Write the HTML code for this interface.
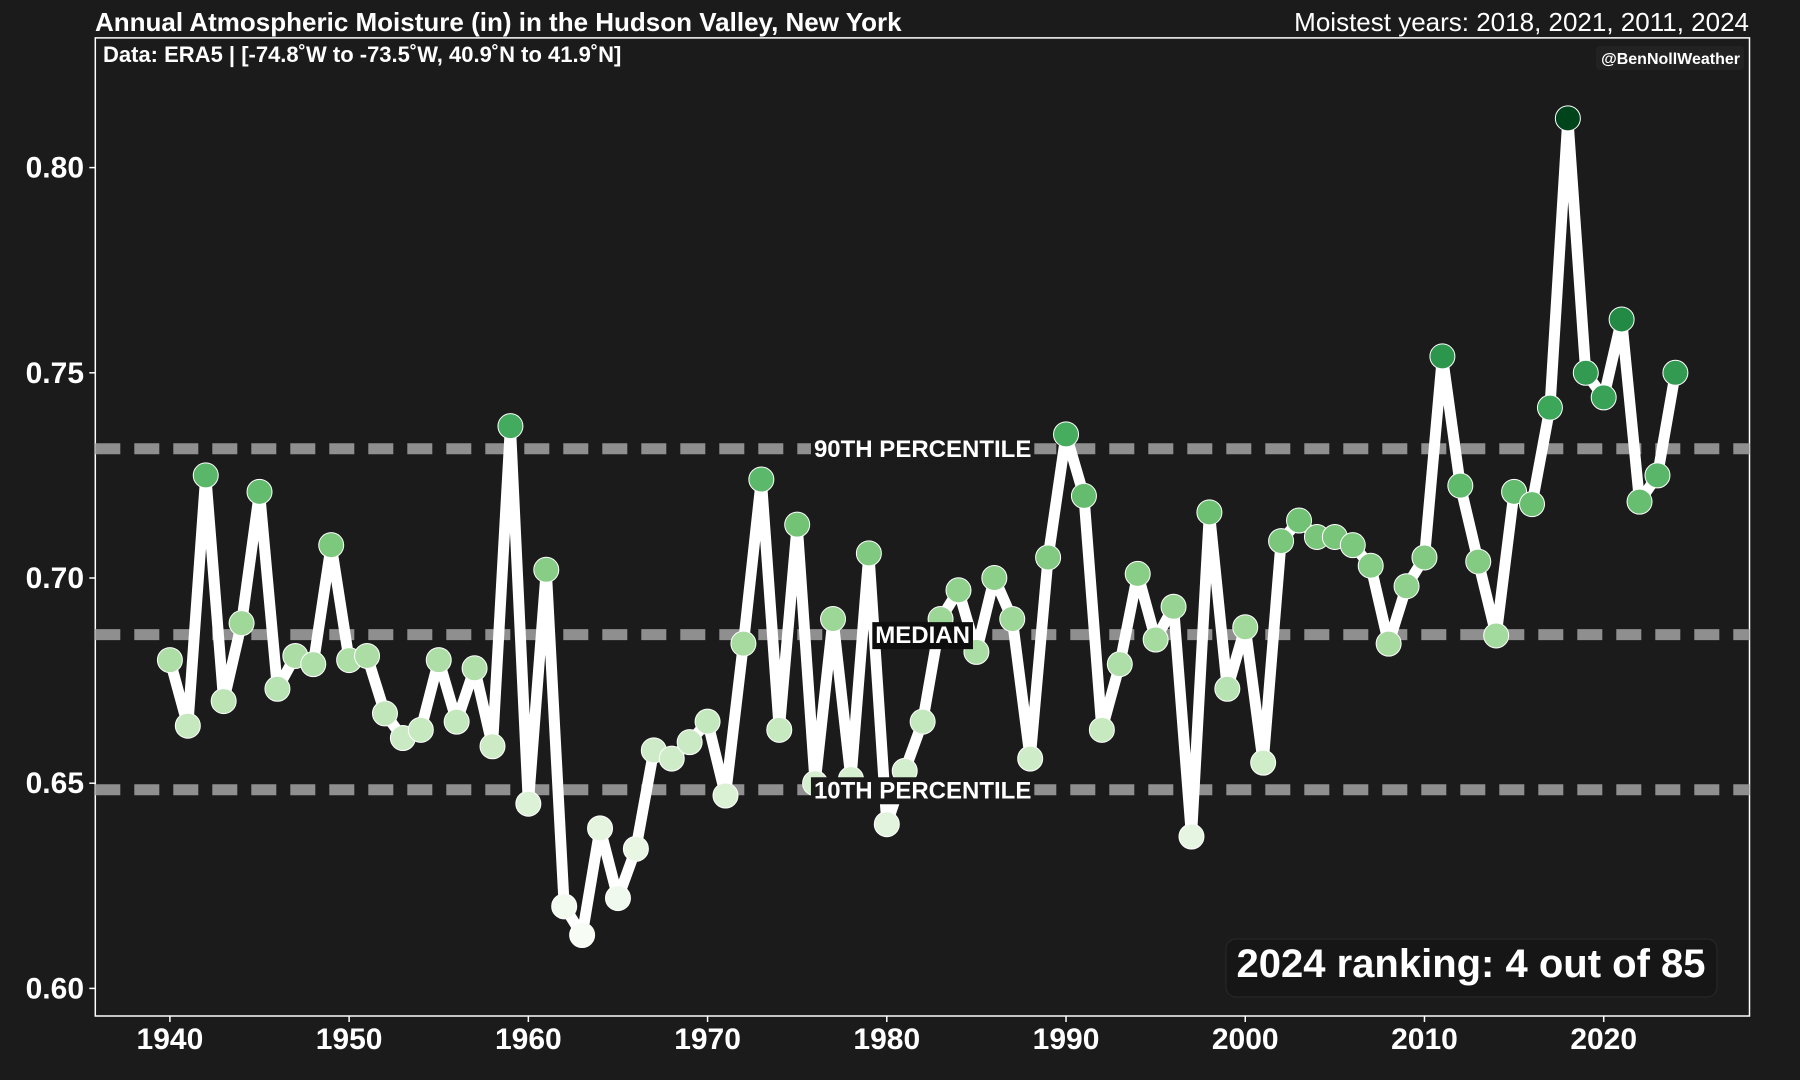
<!DOCTYPE html>
<html><head><meta charset="utf-8">
<style>
html,body{margin:0;padding:0;background:#1b1b1b;}
svg{display:block;}
text{font-family:"Liberation Sans",Arial,sans-serif;}
</style></head>
<body>
<svg id="chart" width="1800" height="1080" viewBox="0 0 1800 1080">
<rect x="0" y="0" width="1800" height="1080" fill="#1b1b1b"/>
<g id="layer"></g>
</svg>
<script>
const years = [];
for (let y = 1940; y <= 2024; y++) years.push(y);
const values = [0.680,0.664,0.725,0.670,0.689,0.721,0.673,0.681,0.679,0.708,
0.680,0.681,0.667,0.661,0.663,0.680,0.665,0.678,0.659,0.737,
0.645,0.702,0.620,0.613,0.639,0.622,0.634,0.658,0.656,0.660,
0.665,0.647,0.684,0.724,0.663,0.713,0.650,0.690,0.651,0.706,
0.640,0.653,0.665,0.690,0.697,0.682,0.700,0.690,0.656,0.705,
0.735,0.720,0.663,0.679,0.701,0.685,0.693,0.637,0.716,0.673,
0.688,0.655,0.709,0.714,0.710,0.710,0.708,0.703,0.684,0.698,
0.705,0.754,0.7225,0.704,0.686,0.721,0.718,0.7415,0.812,0.750,
0.744,0.763,0.7186,0.725,0.750];
const yTicks = [0.60,0.65,0.70,0.75,0.80];
const xTicks = [1940,1950,1960,1970,1980,1990,2000,2010,2020];
const refNames = ["10TH PERCENTILE","MEDIAN","90TH PERCENTILE"];
const refValues = [0.6484,0.6862,0.7315];

const NS = "http://www.w3.org/2000/svg";
const L = 95.3, R = 1749.5, T = 37.9, B = 1016;
function xs(yr){ return 169.9 + (yr - 1940) * (1603.7 - 169.9) / 80; }
function ys(v){ return 167.6 + (0.80 - v) * (988.4 - 167.6) / 0.20; }
const layer = document.getElementById('layer');
function mk(tag, attrs, parent){
  const e = document.createElementNS(NS, tag);
  for (const k in attrs) e.setAttribute(k, attrs[k]);
  (parent || layer).appendChild(e);
  return e;
}
const stops = ["#f7fcf5","#e5f5e0","#c7e9c0","#a1d99b","#74c476","#41ab5d","#238b45","#006d2c","#00441b"];
function hex(h){ return [1,3,5].map(i=>parseInt(h.substr(i,2),16)); }
function green(t){
  t = Math.max(0, Math.min(1, t));
  const p = t * (stops.length - 1), i = Math.min(Math.floor(p), stops.length - 2), f = p - i;
  const a = hex(stops[i]), b = hex(stops[i+1]);
  return "rgb(" + a.map((c,j)=>Math.round(c + (b[j]-c)*f)).join(",") + ")";
}
const vmin = Math.min(...values), vmax = Math.max(...values);

let fr = mk('rect', {x:L, y:T, width:R-L, height:B-T, fill:'none', stroke:'#ffffff', 'stroke-width':1.5});



refValues.forEach((v,i)=>{
  const ln = mk('line', {x1:L, x2:R, y1:ys(v), y2:ys(v), stroke:'#8f8f8f', 'stroke-width':11, 'stroke-dasharray':'25 14'});
  
  
});

const pl = mk('polyline', {points: years.map((yr,i)=>xs(yr)+','+ys(values[i])).join(' '), fill:'none', stroke:'#ffffff', 'stroke-width':11, 'stroke-linejoin':'round'});



years.forEach((yr,i)=>{
  const c = mk('circle', {cx:xs(yr), cy:ys(values[i]), r:12.5, fill:green((values[i]-vmin)/(vmax-vmin)), stroke:'#ffffff', 'stroke-width':1});
  
  
});

refValues.forEach((v,i)=>{
  const t = mk('text', {x:xs(1982), y:ys(v)+8.5, 'text-anchor':'middle', fill:'#ffffff', 'font-size':24, 'font-weight':'bold'});
  t.textContent = refNames[i];
  
  
  const bb = t.getBBox();
  const bg = mk('rect', {x:bb.x-3, y:bb.y, width:bb.width+6, height:bb.height, fill: i === 1 ? '#0e0e0e' : '#1b1b1b'});
  
  
  layer.appendChild(t);
});

yTicks.forEach(v=>{
  const tk = mk('line', {x1:L-6, x2:L, y1:ys(v), y2:ys(v), stroke:'#ffffff', 'stroke-width':1.5});
  
  
  const t = mk('text', {x:84, y:ys(v)+10, 'text-anchor':'end', fill:'#ffffff', 'font-size':30, 'font-weight':'bold'});
  t.textContent = v.toFixed(2);
  
  
});
xTicks.forEach(v=>{
  const tk = mk('line', {x1:xs(v), x2:xs(v), y1:B, y2:B+6, stroke:'#ffffff', 'stroke-width':1.5});
  
  
  const t = mk('text', {x:xs(v), y:1049, 'text-anchor':'middle', fill:'#ffffff', 'font-size':30, 'font-weight':'bold'});
  t.textContent = v;
  
  
});
</script>
<svg width="1800" height="1080" style="position:absolute;left:0;top:0;pointer-events:none">
<text x="95" y="31" fill="#ffffff" font-size="26" font-weight="bold">Annual Atmospheric Moisture (in) in the Hudson Valley, New York</text>
<text x="1749" y="31" fill="#ffffff" font-size="26" text-anchor="end">Moistest years: 2018, 2021, 2011, 2024</text>
<text x="103" y="62" fill="#ffffff" font-size="22" font-weight="bold">Data: ERA5 | [-74.8˚W to -73.5˚W, 40.9˚N to 41.9˚N]</text>
<rect x="1596" y="46" width="148" height="24" rx="4" fill="#222222"/>
<text x="1740" y="64" fill="#ffffff" font-size="16" font-weight="bold" text-anchor="end">@BenNollWeather</text>
<rect x="1226" y="939" width="491" height="58" rx="10" fill="#161616" stroke="#2a2a2a" stroke-width="1"/>
<text x="1471" y="977" fill="#ffffff" font-size="40" font-weight="bold" text-anchor="middle">2024 ranking: 4 out of 85</text>
</svg>
</body></html>
